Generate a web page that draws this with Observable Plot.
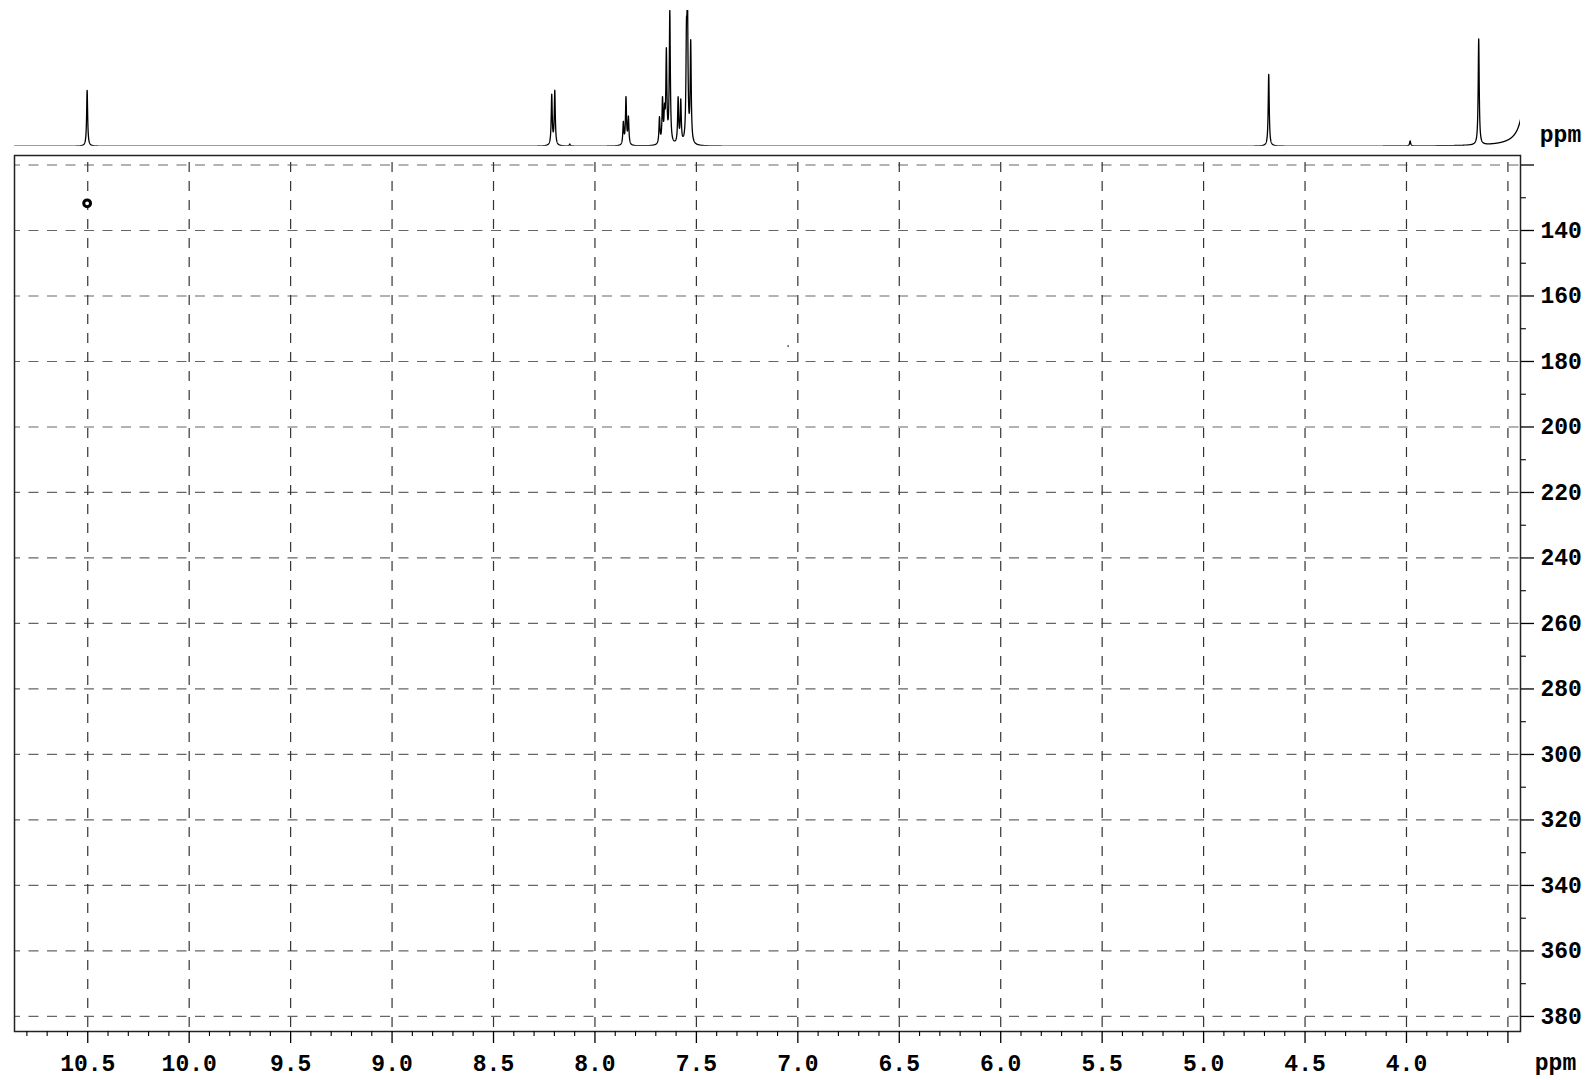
<!DOCTYPE html>
<html>
<head>
<meta charset="utf-8">
<script src="https://cdn.jsdelivr.net/npm/d3@7"></script>
<script src="https://cdn.jsdelivr.net/npm/@observablehq/plot@0.6"></script>
<style>
  html, body { margin: 0; padding: 0; background: white; }
  #wrap { position: relative; width: 1591px; height: 1080px; overflow: hidden; background: white; }
  #main, #trace { position: absolute; left: 0; top: 0; }
</style>
</head>
<body>
<div id="wrap"><div id="main"></div><div id="trace"></div></div>
<script>
// ---- Data ----
// 1D projection (top trace): peak positions (ppm) and heights (arbitrary units)
const peakPpm    = [10.503, 8.213, 8.198, 8.124, 7.860, 7.847, 7.835, 7.682, 7.667, 7.657, 7.648, 7.631, 7.590, 7.577, 7.549, 7.544, 7.528, 4.679, 3.982, 3.644, 3.380];
const peakHeight = [56,     50,    54,    2,     22,    47,    27,    26,    43,    28,    90,    132,   45,    42,    90,    128,   100,   72,    5,     106,   10000];
const peakWidth  = 0.003; // Lorentzian half width (ppm)

// 2D cross peaks (F2 ppm, F1 ppm)
const crossX = [10.503, 7.048];
const crossY = [131.7, 175.3];

// Axis ticks
const xMajor = [10.5, 10.0, 9.5, 9.0, 8.5, 8.0, 7.5, 7.0, 6.5, 6.0, 5.5, 5.0, 4.5, 4.0, 3.5];
const yMajor = [120, 140, 160, 180, 200, 220, 240, 260, 280, 300, 320, 340, 360, 380];
const yMinor = [130, 150, 170, 190, 210, 230, 250, 270, 290, 310, 330, 350, 370];
const xMinor = d3.range(108, 34, -1).filter(v => v % 5 !== 0).map(v => v / 10);

const xDomain = [10.861, 3.438];
const yDomain = [117.1, 384.6];

// ---- build the 1D trace from the peak list ----
const step = 0.0004;
const spectrum = d3.range(xDomain[1], xDomain[0] + step / 2, step).map(x => {
  let s = 0;
  for (let i = 0; i < peakPpm.length; i++) {
    const d = (x - peakPpm[i]) / peakWidth;
    s += peakHeight[i] / (1 + d * d);
  }
  return {x, y: s};
});

const font = {fontFamily: "'Liberation Mono', monospace", fontSize: 23, fontWeight: "bold"};
const baseStyle = {fontFamily: "'Liberation Mono', monospace", fontSize: "23px", fontWeight: "bold", color: "black", background: "transparent", overflow: "visible"};

// ---- top trace ----
const tracePlot = Plot.plot({
  width: 1591, height: 153,
  marginLeft: 14, marginRight: 71, marginTop: 10, marginBottom: 7.3,
  style: baseStyle,
  x: {domain: xDomain, axis: null},
  y: {domain: [0, 135.7], axis: null},
  marks: [
    Plot.line(spectrum, {x: "x", y: "y", stroke: "black", strokeWidth: 1.3, clip: true}),
    Plot.text(["ppm"], {text: d => d, frameAnchor: "bottom-right", dx: 40, dy: -11.4, textAnchor: "middle", lineAnchor: "middle", ...font})
  ]
});
document.getElementById("trace").appendChild(tracePlot);

// ---- main 2D plot ----
const cross = crossX.map((x, i) => ({x, y: crossY[i]}));
const mainPlot = Plot.plot({
  width: 1591, height: 1080,
  marginLeft: 14, marginRight: 71, marginTop: 155, marginBottom: 49,
  style: baseStyle,
  x: {domain: xDomain},
  y: {domain: yDomain, reverse: true},
  marks: [
    Plot.ruleY(yMajor, {stroke: "#666", strokeWidth: 1.2, strokeDasharray: "10,8.5", strokeDashoffset: 4}),
    Plot.ruleX(xMajor, {stroke: "#333", strokeWidth: 1.2, strokeDasharray: "10,9", strokeDashoffset: 12}),
    Plot.dot(cross.slice(0, 1), {x: "x", y: "y", r: 3.4, fill: "white", stroke: "black", strokeWidth: 3}),
    Plot.dot(cross.slice(1), {x: "x", y: "y", r: 0.8, fill: "black", stroke: "none"}),
    Plot.frame({stroke: "#222", strokeWidth: 1.5}),
    Plot.axisX({ticks: xMajor, anchor: "bottom", tickSize: 12, tickPadding: 11, tickFormat: d => d === 3.5 ? "" : d.toFixed(1), label: null, stroke: "black", strokeWidth: 1.3, ...font}),
    Plot.axisX({ticks: xMinor, anchor: "bottom", tickSize: 5, tickFormat: () => "", label: null, stroke: "black", strokeWidth: 1.1}),
    Plot.axisY({ticks: yMajor, anchor: "right", tickSize: 13, tickPadding: 7, tickFormat: d => d === 120 ? "" : String(d), label: null, stroke: "black", strokeWidth: 1.3, ...font}),
    Plot.axisY({ticks: yMinor, anchor: "right", tickSize: 5, tickFormat: () => "", label: null, stroke: "black", strokeWidth: 1.1}),
    Plot.text(["ppm"], {text: d => d, frameAnchor: "bottom-right", dx: 35, dy: 31.6, textAnchor: "middle", lineAnchor: "middle", ...font})
  ]
});
document.getElementById("main").appendChild(mainPlot);
</script>
</body>
</html>
